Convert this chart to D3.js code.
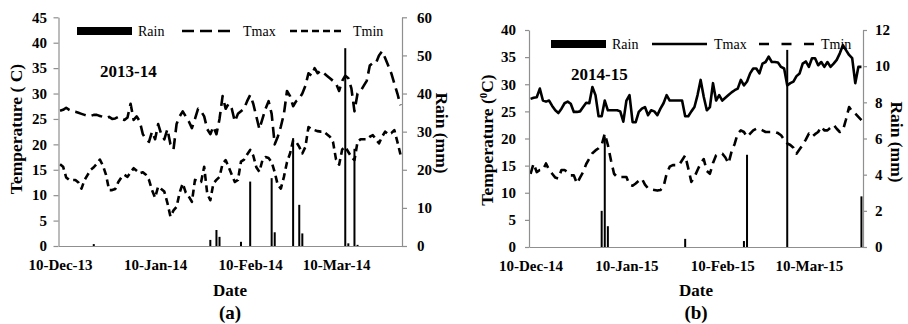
<!DOCTYPE html>
<html><head><meta charset="utf-8">
<script src="https://cdn.jsdelivr.net/npm/d3@7"></script>
<style>
body{margin:0;background:#fff}
svg{display:block}
text{font-family:"Liberation Serif","Times New Roman",serif;fill:#000}
</style>
</head><body>
<svg id="chart" width="908" height="324"></svg>
<script>
// ---------------- DATA ----------------
// Panel (a) 2013-14 : daily series starting 10-Dec-2013
const startA = "2013-12-10";
const tmaxA = [26.6,26.8,27.2,26.8,26.5,26.4,26.2,26,25.8,25.6,
 25.6,25.8,25.8,25.6,25.4,25.2,25.4,25,25.1,25.4,
 25,24.8,25.3,28,24.8,25.5,24.5,22,21,20.5,
 22.5,21,24,22,21,23,20,19,24,25.5,
 26.5,25.5,24.5,23.2,25,27,26.5,25.5,23,22,
 23.5,22,25,29.5,27,28,27,24.5,26,26.5,
 27,28.5,29.7,28,25.5,23,25,27,28.5,26,
 20,21.5,23.5,26,30.5,29.5,27.5,28.5,29,30,
 31.5,34,33.5,35,34,34.5,34,33.5,33,32.5,
 32,30.5,32.5,33.5,33,31,26.5,30,30.5,31.5,
 32.5,35.5,36,36,37.5,38.3,37,35.5,34,32,
 30,27.7];
const tminA = [16.1,15.6,13.5,13,13,13,12.5,11.3,13,14,
 15,15.5,16.2,17,15.8,14,11,11,11.2,12.6,
 13.5,14,13.6,14.5,15.3,14.8,14.3,14.5,14,13,
 11,9.5,11.7,11.2,10.7,8.5,5.8,7,7.7,10.5,
 12.3,10.5,9.7,8.7,13,12.8,12.6,15.6,10.3,9,
 12.3,13,13.6,16.2,16.9,15.5,14,12.6,13,16.6,
 17,18,18.9,17.8,15.5,14.6,16.9,17.5,17.3,16.5,
 14.5,12,11.3,13.6,16.5,18.2,20.8,20.5,19.5,18.2,
 19.5,23.4,23,22.8,22.6,22.5,22.5,22,21.5,20.5,
 17,16,19,19.5,18.5,17.5,16.9,20.5,21,21,
 21,21.5,21.8,21,20.2,21.5,22.5,22,22.2,22.8,
 20.5,18];
const rainDatesA = ["2013-12-21","2014-01-28","2014-01-30","2014-01-31","2014-02-07","2014-02-10",
 "2014-02-17","2014-02-18","2014-02-24","2014-02-26","2014-02-27","2014-03-13","2014-03-14",
 "2014-03-16","2014-03-17"];
const rainA = [0.5,1.6,4.2,2.4,1.1,16.9,17.8,3.6,28.3,10.8,3.3,51.9,0.7,25.5,0.3];
const tempTicksA = [0,5,10,15,20,25,30,35,40,45];
const rainTicksA = [0,10,20,30,40,50,60];
const dateTicksA = ["2013-12-10","2014-01-10","2014-02-10","2014-03-10"];

// Panel (b) 2014-15 : daily series starting 10-Dec-2014
const startB = "2014-12-10";
const tmaxB = [27.3,27.5,27.6,29.2,27,26.8,27,26,25.2,24.7,
 25.5,26.5,26.8,26.4,24.9,24.9,25,25.8,26.6,26.5,
 29.5,28,24.1,24.1,27,25.2,25.2,25.2,25.2,25,
 23.1,27,28,23,23,24.9,25.5,25.8,24.3,25.2,
 25,24.3,25.5,26.5,28,27,27,27,27,27,
 24.1,24.1,25,25.8,28,30.8,27.7,25.2,25.8,30.2,
 27,28,27,27.5,28,28.5,28.9,29.2,30.8,29.8,
 30.5,32,32.9,32.9,32,33.8,34.1,35.1,34.1,34.1,
 34,33.2,32.9,29.8,30.2,30.5,31.5,32,33.8,34.2,
 33.2,34.8,34.8,33.5,34.1,33.2,34.1,33.2,33.8,34.5,
 35.7,37.2,36.3,35.4,34.8,30.2,33.2,33.2];
const tminB = [13.5,15.4,13.8,14.2,14.2,15.4,14.2,13.5,12.8,12.6,
 14.2,14.2,13.8,13.2,13.2,11.7,12.8,13.8,15.3,16.3,
 17.3,17.8,18.2,18.8,20.9,18.8,16,13.5,12.9,12.9,
 12.9,12.9,11.5,11.3,11.7,12.2,12.6,11.5,10.8,10.6,
 10.5,10.4,10.5,11.1,13.5,14.8,15.1,15.1,15.1,16,
 16.9,14.5,12,12.9,14.2,15.4,16.2,14,13.5,15.5,
 16.9,17.2,17.2,16.5,15.4,17.6,19,20.9,21.5,21.2,
 20.3,20.9,21.5,21.8,21.8,21.5,21.2,21.2,21.2,21.2,
 21,20.6,19.8,19.1,18.8,18.3,17.2,18,18.8,19.8,
 20.9,20.3,20.8,21.2,22.2,21.5,21.5,22,22.5,21.8,
 21.2,21.5,23.5,25.8,25,24.6,24,23.4];
const rainDatesB = ["2015-01-02","2015-01-03","2015-01-04","2015-01-29","2015-02-17","2015-02-18","2015-03-03","2015-03-27"];
const rainB = [2.0,6.1,1.15,0.45,0.33,5.1,10.9,2.8];
const tempTicksB = [0,5,10,15,20,25,30,35,40];
const rainTicksB = [0,2,4,6,8,10,12];
const dateTicksB = ["2014-12-10","2015-01-10","2015-02-10","2015-03-10"];

// ---------------- DRAW ----------------
const svg = d3.select("#chart");
const parseDate = d3.timeParse("%Y-%m-%d");
const fmtDate = d3.timeFormat("%d-%b-%y");
const AXIS_GRAY = "#8f8f8f";

function styleAxis(sel, size) {
  sel.select(".domain").attr("stroke", AXIS_GRAY).attr("stroke-width", 1.2);
  sel.selectAll(".tick line").attr("stroke", AXIS_GRAY).attr("stroke-width", 1.2);
  sel.selectAll(".tick text").style("font-size", size + "px").style("font-weight", "bold")
     .style("font-family", '"Liberation Serif","Times New Roman",serif').attr("fill", "#000");
}

function drawPanel(p) {
  const g = svg.append("g");
  const start = parseDate(p.start);
  const dates = p.tmax.map((_, i) => d3.timeDay.offset(start, i));
  const x = d3.scaleTime()
    .domain([d3.timeHour.offset(dates[0], -12), d3.timeHour.offset(dates[dates.length - 1], 12)])
    .range([p.x0, p.x1]);
  const yT = d3.scaleLinear().domain([0, d3.max(p.tempTicks)]).range([p.yb, p.yt]);
  const yR = d3.scaleLinear().domain([0, d3.max(p.rainTicks)]).range([p.yb, p.yt]);

  // rain bars
  g.append("g").selectAll("rect").data(p.rainDates.map((d, i) => ({date: parseDate(d), v: p.rain[i]})))
    .join("rect")
    .attr("x", d => x(d.date) - 1)
    .attr("width", 2)
    .attr("y", d => yR(d.v))
    .attr("height", d => yR(0) - yR(d.v))
    .attr("fill", "#000");

  // lines
  const lineT = (arr) => d3.line().x((d, i) => x(dates[i])).y(d => yT(d))(arr);
  g.append("path").attr("d", lineT(p.tmax)).attr("fill", "none").attr("stroke", "#000")
    .attr("stroke-width", 2.6).attr("stroke-dasharray", p.tmaxDash).attr("stroke-linejoin", "round");
  g.append("path").attr("d", lineT(p.tmin)).attr("fill", "none").attr("stroke", "#000")
    .attr("stroke-width", 2.6).attr("stroke-dasharray", p.tminDash).attr("stroke-linejoin", "round");

  // axes
  const ax1 = g.append("g").attr("transform", `translate(${p.x0},0)`)
    .call(d3.axisLeft(yT).tickValues(p.tempTicks).tickSize(p.tick).tickSizeOuter(0).tickPadding(p.padL));
  styleAxis(ax1, 15);
  const ax2 = g.append("g").attr("transform", `translate(${p.x1},0)`)
    .call(d3.axisRight(yR).tickValues(p.rainTicks).tickSize(p.tick).tickSizeOuter(0).tickPadding(p.padR));
  styleAxis(ax2, 15);
  const ax3 = g.append("g").attr("transform", `translate(0,${p.yb})`)
    .call(d3.axisBottom(x).tickValues(p.dateTicks.map(parseDate)).tickFormat(fmtDate).tickSize(0).tickSizeOuter(0).tickPadding(13.5));
  styleAxis(ax3, 15);

  // titles
  const tl = g.append("text").attr("transform", `translate(${p.tTx},${p.tTy}) rotate(-90)`)
    .attr("text-anchor", "middle").attr("dy", "0.35em")
    .style("font-size", "17.5px").style("font-weight", "bold");
  tl.append("tspan").text(p.tempTitle[0]);
  if (p.tempTitle.length > 1) {
    tl.append("tspan").attr("baseline-shift", "super").style("font-size", "11px").text(p.tempTitle[1]);
    tl.append("tspan").text(p.tempTitle[2]);
  }
  g.append("text").attr("transform", `translate(${p.rTx},${p.rTy}) rotate(90)`)
    .attr("text-anchor", "middle").attr("dy", "0.35em")
    .style("font-size", "17.5px").style("font-weight", "bold").text("Rain (mm)");
  g.append("text").attr("x", p.cx).attr("y", 296).attr("text-anchor", "middle")
    .style("font-size", "17px").style("font-weight", "bold").text("Date");
  g.append("text").attr("x", p.cx).attr("y", 318.5).attr("text-anchor", "middle")
    .style("font-size", "19px").style("font-weight", "bold").text(p.panel);
  g.append("text").attr("x", p.yearX).attr("y", p.yearY)
    .style("font-size", "17px").style("font-weight", "bold").text(p.year);

  // legend
  const L = p.legend;
  g.append("rect").attr("x", L.rx).attr("y", L.y - 4).attr("width", 55).attr("height", 8).attr("fill", "#000");
  const lt = (xx, t) => g.append("text").attr("x", xx).attr("y", L.y + 4.8).style("font-size", "14px").text(t);
  lt(L.rx + 61, "Rain");
  g.append("line").attr("x1", L.l1[0]).attr("x2", L.l1[1]).attr("y1", L.y).attr("y2", L.y)
    .attr("stroke", "#000").attr("stroke-width", 2.6).attr("stroke-dasharray", L.d1);
  lt(L.t1, "Tmax");
  g.append("line").attr("x1", L.l2[0]).attr("x2", L.l2[1]).attr("y1", L.y).attr("y2", L.y)
    .attr("stroke", "#000").attr("stroke-width", 2.6).attr("stroke-dasharray", L.d2);
  lt(L.t2, "Tmin");
}

drawPanel({
  start: startA, tmax: tmaxA, tmin: tminA, rainDates: rainDatesA, rain: rainA,
  tempTicks: tempTicksA, rainTicks: rainTicksA, dateTicks: dateTicksA,
  x0: 58.5, x1: 402, yt: 17.3, yb: 246, tick: 5, padL: 6.5, padR: 10,
  tmaxDash: "11,6", tminDash: "7,4.5",
  tempTitle: ["Temperature ( C)"], tTx: 15.5, tTy: 129, rTx: 442, rTy: 133,
  cx: 230, panel: "(a)", year: "2013-14", yearX: 100, yearY: 77,
  legend: {rx: 77, y: 31, l1: [182, 230], d1: "12,6", t1: 243, l2: [290, 343], d2: "7,4", t2: 353}
});
drawPanel({
  start: startB, tmax: tmaxB, tmin: tminB, rainDates: rainDatesB, rain: rainB,
  tempTicks: tempTicksB, rainTicks: rainTicksB, dateTicks: dateTicksB,
  x0: 529, x1: 863, yt: 30, yb: 247, tick: 4, padL: 9, padR: 8,
  tmaxDash: null, tminDash: "9,6",
  tempTitle: ["Temperature (", "0", "C)"], tTx: 486.5, tTy: 140, rTx: 897.5, rTy: 142,
  cx: 696, panel: "(b)", year: "2014-15", yearX: 571, yearY: 80,
  legend: {rx: 551, y: 44, l1: [652, 707], d1: null, t1: 714, l2: [759, 814], d2: "10,12.5", t2: 821}
});
</script>
</body></html>
